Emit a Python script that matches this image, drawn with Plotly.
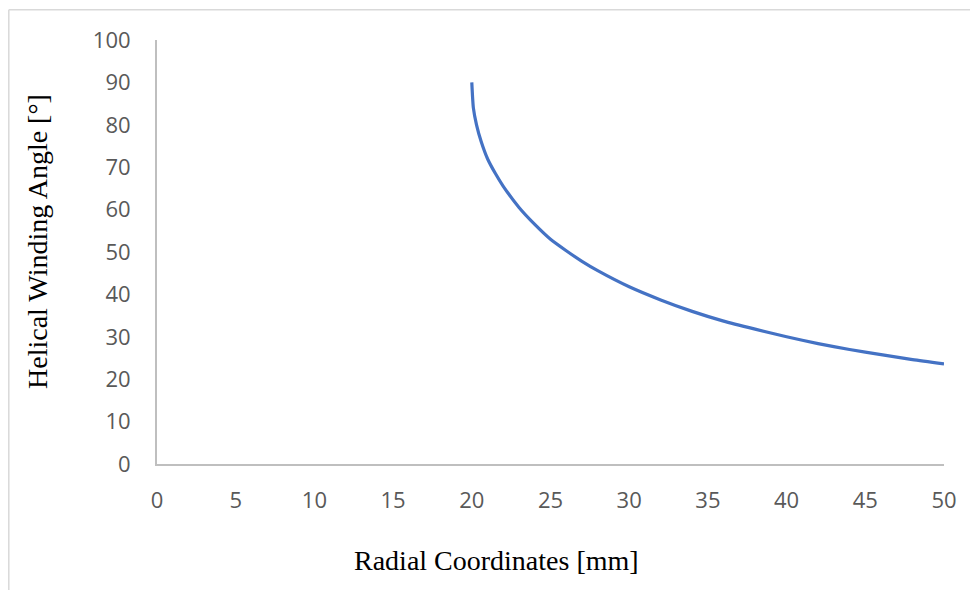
import plotly.graph_objects as go

# Data
radial_mm = [20, 20.1, 20.3, 20.6, 21, 21.5, 22, 23, 24, 25, 26, 27, 28, 30,
             32, 34, 36, 38, 40, 42, 44, 46, 48, 50]
winding_angle_deg = [90, 84, 80, 76, 72, 68.5, 65.5, 60.5, 56.5, 53, 50.3, 47.8,
                     45.6, 41.8, 38.7, 36, 33.7, 31.8, 30, 28.4, 27, 25.8, 24.6, 23.6]
x_ticks = [0, 5, 10, 15, 20, 25, 30, 35, 40, 45, 50]
y_ticks = [0, 10, 20, 30, 40, 50, 60, 70, 80, 90, 100]

# page has an 8px body margin, so the figure is drawn 8px smaller
OFF = 8
W, H = 978 - OFF, 590 - OFF
L, T = 157 - OFF, 40 - OFF
R = W - L - 787
B = H - T - 424
pw, ph = W - L - R, H - T - B

fig = go.Figure()
fig.add_trace(go.Scatter(
    x=radial_mm, y=winding_angle_deg, mode="lines",
    line=dict(color="#4472C4", width=3.2, shape="spline", smoothing=0.6),
    showlegend=False, hoverinfo="x+y"))

tick_font = dict(family="Open Sans", size=22, color="#595959")
axis_common = dict(showgrid=False, zeroline=False, showline=True,
                   linecolor="#BFBFBF", linewidth=2, ticks="",
                   tickfont=tick_font, fixedrange=True)

fig.update_xaxes(range=[0, 50], tickvals=x_ticks, ticklabelstandoff=16, **axis_common)
fig.update_yaxes(range=[0, 100], tickvals=y_ticks, ticklabelstandoff=20, **axis_common)

def px(xp):
    # xp in page pixels
    return (xp - OFF - L) / pw

def py(yp):
    return (H - B - (yp - OFF)) / ph

title_font = dict(family="Liberation Serif", size=28, color="#000000")
border = dict(color="#D9D9D9", width=1.5)
fig.update_layout(
    width=W, height=H,
    margin=dict(l=L, r=R, t=T, b=B, autoexpand=False),
    paper_bgcolor="white", plot_bgcolor="white",
    annotations=[
        dict(text="Radial Coordinates [mm]", x=px(496), y=py(560), xref="paper", yref="paper",
             showarrow=False, font=title_font, xanchor="center", yanchor="middle"),
        dict(text="Helical Winding Angle [°]", x=px(38), y=py(242), xref="paper", yref="paper",
             showarrow=False, font=title_font, textangle=-90, xanchor="center", yanchor="middle"),
    ],
    shapes=[
        dict(type="line", xref="paper", yref="paper",
             x0=px(8.8), x1=px(1000), y0=py(9.8), y1=py(9.8), line=border, layer="below"),
        dict(type="line", xref="paper", yref="paper",
             x0=px(8.8), x1=px(8.8), y0=py(9.8), y1=py(620), line=border, layer="below"),
    ],
)

fig.write_html("out.html")
